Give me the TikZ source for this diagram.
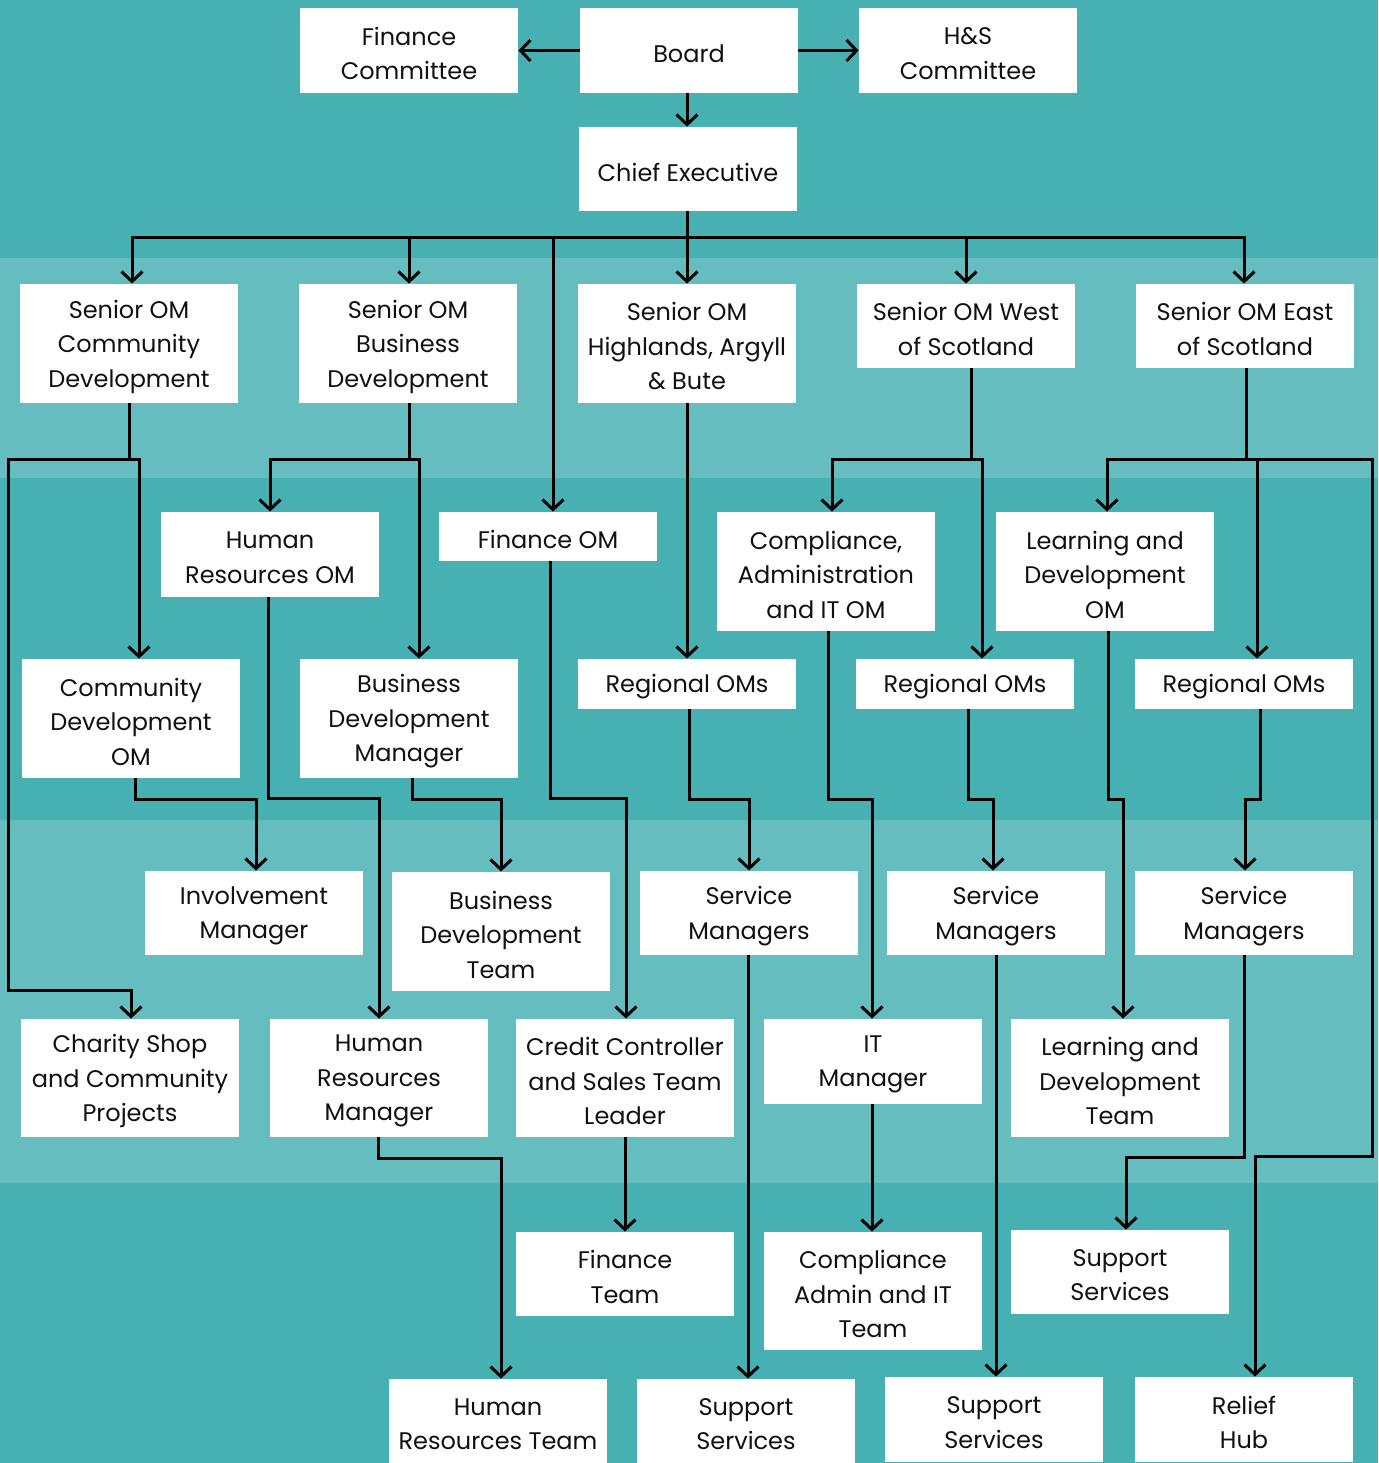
\documentclass[tikz,border=0pt]{standalone}
\usepackage{fontspec}
\setmainfont{Poppins}
\usetikzlibrary{arrows.meta}
\definecolor{tealdark}{HTML}{46B0B3}
\definecolor{teallight}{HTML}{66BDBF}
\definecolor{ink}{HTML}{111111}
\tikzset{
  bx/.style={fill=white, inner sep=0pt},
  bxtext/.style={inner sep=0pt, align=center, text=ink,
    font=\fontsize{12}{17.25}\selectfont},
  arr/.style={draw=black, line width=1.5pt, line join=miter,
    -{Straight Barb[length=5pt,width=10.5pt]}},
}
\newcommand\bx[6]{\node[bx, minimum width={(#4-#2)*0.5pt}, minimum height={(#5-#3)*0.5pt}] (#1) at ({(#2+#4)/2},{(#3+#5)/2}) {};
  \node[bxtext] (#1-t) at ([yshift=-1.5pt]#1.center) {#6};}
\begin{document}
\begin{tikzpicture}[x=0.5pt,y=-0.5pt]
\useasboundingbox (0,0) rectangle (1378,1463);
% bands
\fill[tealdark] (0,0) rectangle (1378,258);
\fill[teallight] (0,258) rectangle (1378,478);
\fill[tealdark] (0,478) rectangle (1378,820);
\fill[teallight] (0,820) rectangle (1378,1183);
\fill[tealdark] (0,1183) rectangle (1378,1463);
% row 0
\bx{fc}{300}{8}{518}{93}{Finance\\Committee}
\bx{board}{580}{8}{798}{93}{Board}
\bx{hs}{859}{8}{1077}{93}{H\&S\\Committee}
\bx{ce}{579}{127}{797}{211}{Chief Executive}
% row 1
\bx{scd}{20}{284}{238}{403}{Senior OM\\Community\\Development}
\bx{sbd}{299}{284}{517}{403}{Senior OM\\Business\\Development}
\bx{shab}{578}{284}{796}{403}{Senior OM\\Highlands, Argyll\\\& Bute}
\bx{sw}{857}{284}{1075}{368}{Senior OM West\\of Scotland}
\bx{se}{1136}{284}{1354}{368}{Senior OM East\\of Scotland}
% row 2
\bx{hrom}{161}{512}{379}{597}{Human\\Resources OM}
\bx{fom}{439}{512}{657}{561}{Finance OM}
\bx{caom}{717}{512}{935}{631}{Compliance,\\Administration\\and IT OM}
\bx{ldom}{996}{512}{1214}{631}{Learning and\\Development\\OM}
% row 3
\bx{cdom}{22}{659}{240}{778}{Community\\Development\\OM}
\bx{bdm}{300}{659}{518}{778}{Business\\Development\\Manager}
\bx{ro1}{578}{659}{796}{709}{Regional OMs}
\bx{ro2}{856}{659}{1074}{709}{Regional OMs}
\bx{ro3}{1135}{659}{1353}{709}{Regional OMs}
% row 4
\bx{im}{145}{871}{363}{955}{Involvement\\Manager}
\bx{bdt}{392}{872}{610}{991}{Business\\Development\\Team}
\bx{sm1}{640}{871}{858}{955}{Service\\Managers}
\bx{sm2}{887}{871}{1105}{955}{Service\\Managers}
\bx{sm3}{1135}{871}{1353}{955}{Service\\Managers}
% row 5
\bx{cs}{21}{1019}{239}{1137}{Charity Shop\\and Community\\Projects}
\bx{hrm}{270}{1019}{488}{1137}{Human\\Resources\\Manager}
\bx{cc}{516}{1019}{734}{1137}{Credit Controller\\and Sales Team\\Leader}
\bx{itm}{764}{1019}{982}{1104}{IT\\Manager}
\bx{ldt}{1011}{1019}{1229}{1137}{Learning and\\Development\\Team}
% row 6
\bx{ft}{516}{1232}{734}{1316}{Finance\\Team}
\bx{cat}{764}{1232}{982}{1350}{Compliance\\Admin and IT\\Team}
\bx{ss0}{1011}{1230}{1229}{1314}{Support\\Services}
% row 7
\bx{hrt}{389}{1379}{607}{1463}{Human\\Resources Team}
\bx{ss1}{637}{1379}{855}{1463}{Support\\Services}
\bx{ss2}{885}{1377}{1103}{1462}{Support\\Services}
\bx{rh}{1135}{1377}{1353}{1462}{Relief\\Hub}
% connectors top
\draw[arr] (board.west) -- (fc.east);
\draw[arr] (board.east) -- (hs.west);
\draw[arr] (board.south -| 687,0) -- (ce.north -| 687,0);
% chief executive bus
\draw[arr] (ce.south -| 687,0) |- (132,237) -- (scd.north -| 132,0);
\draw[arr] (ce.south -| 687,0) |- (409,237) -- (sbd.north -| 409,0);
\draw[arr] (ce.south -| 687,0) -- (shab.north -| 687,0);
\draw[arr] (ce.south -| 687,0) |- (966,237) -- (sw.north -| 966,0);
\draw[arr] (ce.south -| 687,0) |- (1244,237) -- (se.north -| 1244,0);
\draw[arr] (ce.south -| 687,0) |- (553,237) -- (fom.north -| 553,0);
% senior OM community development
\draw[arr] (scd.south -| 129,0) |- (8,459) -- (8,990) -| (cs.north -| 131,0);
\draw[arr] (scd.south -| 129,0) |- (139,459) -- (cdom.north -| 139,0);
% senior OM business development
\draw[arr] (sbd.south -| 409,0) |- (270,459) -- (hrom.north -| 270,0);
\draw[arr] (sbd.south -| 409,0) |- (419,459) -- (bdm.north -| 419,0);
% highlands
\draw[arr] (shab.south -| 687,0) -- (ro1.north -| 687,0);
% west
\draw[arr] (sw.south -| 971,0) |- (832,459) -- (caom.north -| 832,0);
\draw[arr] (sw.south -| 971,0) |- (982,459) -- (ro2.north -| 982,0);
% east
\draw[arr] (se.south -| 1246,0) |- (1107,459) -- (ldom.north -| 1107,0);
\draw[arr] (se.south -| 1246,0) |- (1257,459) -- (ro3.north -| 1257,0);
\draw[arr] (se.south -| 1246,0) |- (1372,459) -- (1372,1156) -| (rh.north -| 1255,0);
% row 2/3 to row 4/5
\draw[arr] (hrom.south -| 268,0) |- (379,798) -- (hrm.north -| 379,0);
\draw[arr] (cdom.south -| 135,0) |- (256,799) -- (im.north -| 256,0);
\draw[arr] (bdm.south -| 412,0) |- (501,799) -- (bdt.north -| 501,0);
\draw[arr] (fom.south -| 550,0) |- (626,798) -- (cc.north -| 626,0);
\draw[arr] (ro1.south -| 689,0) |- (749,799) -- (sm1.north -| 749,0);
\draw[arr] (caom.south -| 828,0) |- (872,799) -- (itm.north -| 872,0);
\draw[arr] (ro2.south -| 968,0) |- (993,799) -- (sm2.north -| 993,0);
\draw[arr] (ldom.south -| 1108,0) |- (1123,799) -- (ldt.north -| 1123,0);
\draw[arr] (ro3.south -| 1260,0) |- (1245,799) -- (sm3.north -| 1245,0);
% lower
\draw[arr] (hrm.south -| 378,0) |- (501,1158) -- (hrt.north -| 501,0);
\draw[arr] (cc.south -| 625,0) -- (ft.north -| 625,0);
\draw[arr] (sm1.south -| 748,0) -- (ss1.north -| 748,0);
\draw[arr] (itm.south -| 872,0) -- (cat.north -| 872,0);
\draw[arr] (sm2.south -| 996,0) -- (ss2.north -| 996,0);
\draw[arr] (sm3.south -| 1244,0) |- (1126,1157) -- (ss0.north -| 1126,0);
\end{tikzpicture}
\end{document}
